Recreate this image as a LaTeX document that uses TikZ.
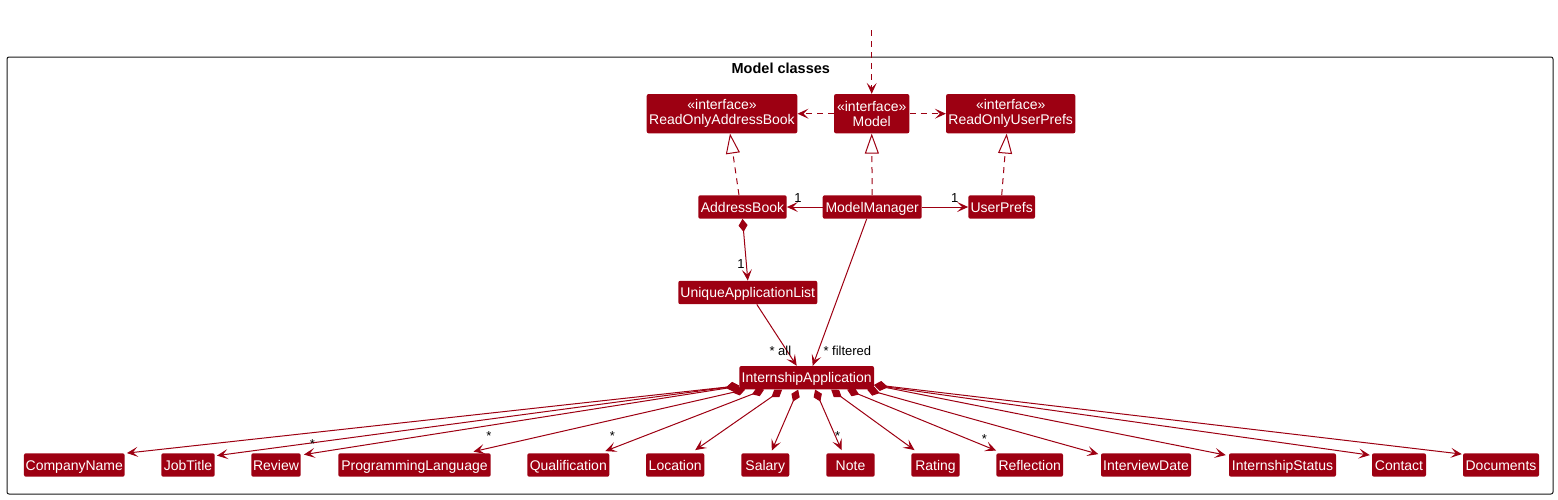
\documentclass[tikz,border=0pt]{standalone}
\usepackage{fontspec}
\setmainfont{Liberation Sans}
\usetikzlibrary{arrows.meta,calc}
\definecolor{mc}{HTML}{9D0012}
\begin{document}
\begin{tikzpicture}[x=1pt,y=-1pt,
  cls/.style={fill=mc, text=white, draw=none, rounded corners=2pt, inner sep=0pt,
    font=\fontsize{14}{15}\selectfont, text height=11.5pt, text depth=1.5pt, minimum height=23.4pt},
  iface/.style={fill=mc, text=white, draw=none, rounded corners=2pt, inner sep=0pt,
    font=\fontsize{14}{15}\selectfont, align=center, minimum height=39.3pt},
  lbl/.style={text=black, inner sep=0pt, font=\fontsize{13}{15}\selectfont},
  tipopen/.tip={Stealth[length=11pt,width=10pt,inset=5pt]},
  conn/.style={draw=mc, line width=1pt},
  dep/.style={conn, dash pattern=on 6pt off 5pt, -tipopen},
  real/.style={conn, dash pattern=on 6pt off 5pt, -{Triangle[open,length=20pt,width=14pt,fill=white]}},
  assoc/.style={conn, -tipopen},
  comp/.style={conn, {Diamond[length=13pt,width=9pt,fill=mc]}-tipopen},
]
\useasboundingbox (0,0) rectangle (1558,499);

% frame
\node[draw=black!90, line width=1pt, rounded corners=2pt, minimum width=1546pt, minimum height=437pt, inner sep=0pt] (frame) at (780,275.5) {};
\node[anchor=base, inner sep=0pt, font=\fontsize{14.5}{16}\selectfont\bfseries] (title) at (780.8,73.5) {Model classes};

% top row
\node[iface, minimum width=150.6pt] (ROAB) at (722,113.7) {«interface»\\ReadOnlyAddressBook};
\node[iface, minimum width=75.3pt] (Model) at (871.7,113.7) {«interface»\\Model};
\node[iface, minimum width=129.3pt] (ROUP) at (1010.7,113.7) {«interface»\\ReadOnlyUserPrefs};

% second row
\node[cls, minimum width=88.4pt] (AB) at (742.5,207) {AddressBook};
\node[cls, minimum width=99pt] (MM) at (872.2,207) {ModelManager};
\node[cls, minimum width=66.7pt] (UP) at (1001.7,207) {UserPrefs};

\node[cls, minimum width=139pt] (UAL) at (747.8,292.5) {UniqueApplicationList};
\node[cls, minimum width=134.7pt] (IA) at (806.7,377.7) {InternshipApplication};

% bottom row
\node[cls, minimum width=100.7pt] (CN) at (74.3,465) {CompanyName};
\node[cls, minimum width=53.4pt] (JT) at (188,465) {JobTitle};
\node[cls, minimum width=49.4pt] (RV) at (276,465) {Review};
\node[cls, minimum width=152.4pt] (PL) at (414.5,465) {ProgrammingLanguage};
\node[cls, minimum width=82pt] (QU) at (568.3,465) {Qualification};
\node[cls, minimum width=58.3pt] (LO) at (675.2,465) {Location};
\node[cls, minimum width=48pt] (SA) at (765.3,465) {Salary};
\node[cls, minimum width=48.4pt] (NO) at (850.5,465) {Note};
\node[cls, minimum width=48.4pt] (RA) at (935.5,465) {Rating};
\node[cls, minimum width=66.7pt] (RE) at (1029.7,465) {Reflection};
\node[cls, minimum width=90pt] (ID) at (1146,465) {InterviewDate};
\node[cls, minimum width=107pt] (IS) at (1282.5,465) {InternshipStatus};
\node[cls, minimum width=54pt] (CO) at (1399,465) {Contact};
\node[cls, minimum width=76pt] (DO) at (1501,465) {Documents};

% upper connectors
\coordinate (top) at (871.7,30);
\draw[dep] (top) -- (Model.north);
\draw[dep] (Model.west) -- (ROAB.east);
\draw[dep] (Model.east) -- (ROUP.west);
\draw[real] ($(AB.north)+(-3.5,0)$) -- ($(ROAB.south)+(8,0)$);
\draw[real] (MM.north) -- (Model.south);
\draw[real] (UP.north) -- ($(ROUP.south)+(-4,0)$);
\draw[assoc] (MM.west) -- (AB.east);
\draw[assoc] (MM.east) -- (UP.west);
\draw[comp] (AB.south) -- (UAL.north);
\draw[assoc] ($(UAL.south)+(9,0)$) -- ($(IA.north)+(-10,0)$);
\draw[assoc] ($(MM.south)+(-5.5,0)$) -- ($(IA.north)+(6,0)$);

\node[lbl, anchor=base] (m1) at (798,202.7) {1};
\node[lbl, anchor=base] (m2) at (954.7,202.7) {1};
\node[lbl, anchor=base] (m3) at (741,268.3) {1};
\node[lbl, anchor=base west] (mall) at (769.3,355) {* all};
\node[lbl, anchor=base west] (mfilt) at (823.3,355) {* filtered};

% compositions to attributes
\draw[comp] ($(IA.west)+(0,8)$) -- ($(CN.north east)+(2,0)$);
\draw[comp] ($(IA.west)+(0,8)$) -- ($(JT.north east)+(2,2.5)$);
\draw[comp] ($(IA.west)+(0,8.5)$) -- ($(RV.north east)+(3,1.5)$);
\draw[comp] ($(IA.south west)+(6,0)$) -- ($(PL.north)+(59,-1.5)$);
\draw[comp] ($(IA.south west)+(25,0)$) -- ($(QU.north)+(37,-2)$);
\draw[comp] ($(IA.south west)+(43,0)$) -- ($(LO.north)+(20,-3)$);
\draw[comp] ($(IA.south west)+(59,0)$) -- ($(SA.north)+(6.5,-2.5)$);
\draw[comp] ($(IA.south west)+(76,0)$) -- ($(NO.north)+(-9,-3)$);
\draw[comp] ($(IA.south west)+(92,0)$) -- ($(RA.north)+(-21,-3)$);
\draw[comp] ($(IA.south west)+(108,0)$) -- ($(RE.north west)+(0,-2.5)$);
\draw[comp] ($(IA.south west)+(128,0)$) -- ($(ID.north west)+(-2.5,1)$);
\draw[comp] ($(IA.east)+(0,7.5)$) -- ($(IS.north west)+(-3,2)$);
\draw[comp] ($(IA.east)+(0,7.5)$) -- ($(CO.north west)+(-2,2)$);
\draw[comp] ($(IA.east)+(0,7)$) -- ($(DO.north west)+(-1,1)$);

\node[lbl, anchor=base] (s1) at (312.3,448.5) {*};
\node[lbl, anchor=base] (s2) at (489,440.8) {*};
\node[lbl, anchor=base] (s3) at (612.3,440.8) {*};
\node[lbl, anchor=base] (s4) at (837.7,440.8) {*};
\node[lbl, anchor=base] (s5) at (984.3,443.2) {*};
\end{tikzpicture}
\end{document}
